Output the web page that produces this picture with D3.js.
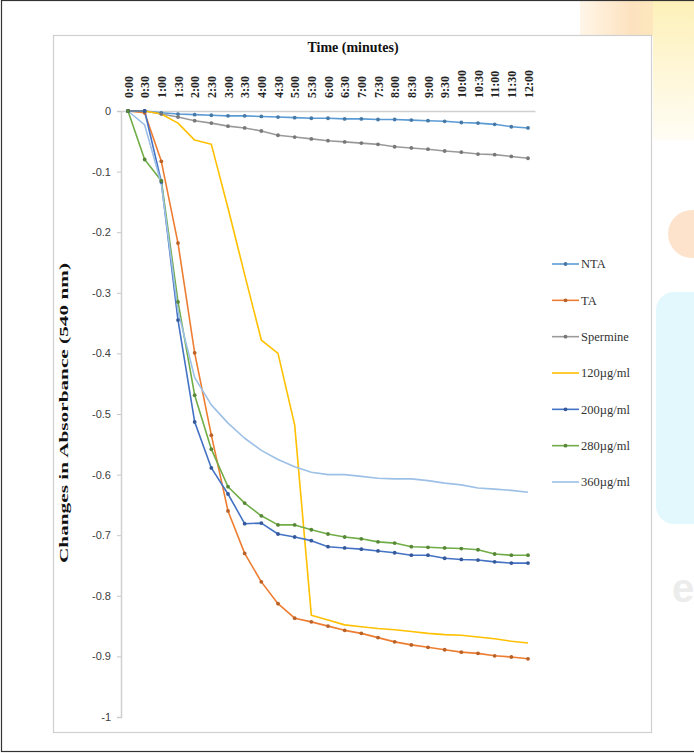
<!DOCTYPE html>
<html>
<head>
<meta charset="utf-8">
<script src="https://cdn.jsdelivr.net/npm/d3@7"></script>
<style>
  html, body { margin: 0; padding: 0; background: #fff; }
  svg { display: block; }
</style>
</head>
<body>
<svg id="chart" width="694" height="753"></svg>
<script>
// Sampling times, every 30 seconds
const times = ["0:00","0:30","1:00","1:30","2:00","2:30","3:00","3:30","4:00","4:30","5:00","5:30",
  "6:00","6:30","7:00","7:30","8:00","8:30","9:00","9:30","10:00","10:30","11:00","11:30","12:00"];

const yTicks = [0, -0.1, -0.2, -0.3, -0.4, -0.5, -0.6, -0.7, -0.8, -0.9, -1];

// Change in absorbance at 540 nm for each sample
const nta = [0, 0, -0.003, -0.005, -0.006, -0.007, -0.008, -0.008, -0.009, -0.010, -0.011, -0.012,
  -0.012, -0.013, -0.013, -0.014, -0.014, -0.015, -0.016, -0.017, -0.019, -0.020, -0.022, -0.026, -0.028];
const ta = [0, -0.003, -0.083, -0.218, -0.399, -0.535, -0.660, -0.730, -0.777, -0.813, -0.837, -0.843,
  -0.850, -0.857, -0.862, -0.869, -0.876, -0.881, -0.885, -0.889, -0.893, -0.895, -0.899, -0.901, -0.904];
const spermine = [0, 0, -0.005, -0.010, -0.016, -0.020, -0.025, -0.028, -0.033, -0.040, -0.043, -0.046,
  -0.049, -0.051, -0.053, -0.055, -0.059, -0.061, -0.063, -0.066, -0.068, -0.071, -0.072, -0.075, -0.078];
const c120 = [0, 0, -0.005, -0.020, -0.048, -0.055, -0.160, -0.270, -0.378, -0.400, -0.518, -0.832,
  -0.840, -0.848, -0.851, -0.854, -0.856, -0.859, -0.862, -0.864, -0.865, -0.868, -0.871, -0.875, -0.878];
const c200 = [0, 0, -0.117, -0.345, -0.513, -0.589, -0.632, -0.681, -0.680, -0.698, -0.703, -0.709,
  -0.719, -0.721, -0.723, -0.726, -0.729, -0.733, -0.733, -0.738, -0.740, -0.741, -0.744, -0.746, -0.746];
const c280 = [0, -0.080, -0.115, -0.315, -0.469, -0.558, -0.620, -0.647, -0.668, -0.683, -0.683, -0.691,
  -0.698, -0.703, -0.706, -0.711, -0.713, -0.719, -0.720, -0.721, -0.722, -0.724, -0.731, -0.733, -0.733];
const c360 = [0, -0.023, -0.120, -0.330, -0.440, -0.485, -0.515, -0.540, -0.560, -0.575, -0.587, -0.596,
  -0.600, -0.600, -0.603, -0.606, -0.607, -0.607, -0.610, -0.614, -0.617, -0.622, -0.624, -0.626, -0.629];

const seriesNames = ["NTA", "TA", "Spermine", "120\u00b5g/ml", "200\u00b5g/ml", "280\u00b5g/ml", "360\u00b5g/ml"];
const seriesValues = [nta, ta, spermine, c120, c200, c280, c360];
const seriesColors = ["#5B9BD5", "#ED7D31", "#9A9A9A", "#FFC000", "#4472C4", "#70AD47", "#9DC0E6"];
const seriesMarkers = [true, true, true, false, true, true, false];

const series = seriesNames.map((name, i) => ({
  name, values: seriesValues[i], color: seriesColors[i], marker: seriesMarkers[i]
}));

const svg = d3.select("#chart");
const serif = "'Liberation Serif', 'Times New Roman', serif";
const sans = "'Liberation Sans', Arial, sans-serif";

// Soft page decorations behind the chart box
const defs = svg.append("defs");
const gTop = defs.append("linearGradient").attr("id", "gTop").attr("x1", 0).attr("x2", 1).attr("y1", 0).attr("y2", 0);
gTop.append("stop").attr("offset", "0%").attr("stop-color", "#fff6e8");
gTop.append("stop").attr("offset", "45%").attr("stop-color", "#fde2bf");
gTop.append("stop").attr("offset", "100%").attr("stop-color", "#fdf0b8");
const gSide = defs.append("linearGradient").attr("id", "gSide").attr("x1", 0).attr("x2", 0).attr("y1", 0).attr("y2", 1);
gSide.append("stop").attr("offset", "0%").attr("stop-color", "#fdf0b8");
gSide.append("stop").attr("offset", "100%").attr("stop-color", "#fffdf5");
const deco = svg.append("g");
deco.append("rect").attr("x", 580).attr("y", 0).attr("width", 114).attr("height", 36).attr("fill", "url(#gTop)");
deco.append("rect").attr("x", 653).attr("y", 0).attr("width", 41).attr("height", 140).attr("fill", "url(#gSide)");
deco.append("circle").attr("cx", 692).attr("cy", 234).attr("r", 24).attr("fill", "#fde3cc");
deco.append("rect").attr("x", 656).attr("y", 292).attr("width", 60).attr("height", 232).attr("rx", 18).attr("fill", "#e3f8fc");
deco.append("text").attr("x", 672).attr("y", 602).attr("font-family", sans).attr("font-size", 40)
  .attr("font-weight", "bold").attr("fill", "#ececec").text("e");

// Outer frame and chart box
svg.append("rect").attr("x", 1.5).attr("y", 0.5).attr("width", 700).attr("height", 751)
  .attr("fill", "none").attr("stroke", "#333").attr("stroke-width", 1.2);
svg.append("rect").attr("x", 53.5).attr("y", 35.5).attr("width", 598).attr("height", 697)
  .attr("fill", "#fff").attr("stroke", "#d0d0d0").attr("stroke-width", 1.2);

// Scales
const x = d3.scalePoint().domain(times).range([121, 535]).padding(0.42);
const y = d3.scaleLinear().domain([0, -1]).range([111, 717]);

// Y axis
const yAxis = svg.append("g").attr("transform", "translate(121,0)")
  .call(d3.axisLeft(y).tickValues(yTicks).tickSize(4).tickPadding(6)
    .tickFormat(d => d === 0 ? "0" : String(+d.toFixed(1))));
yAxis.select(".domain").attr("stroke", "#d0d0d0").attr("stroke-width", 1.5);
yAxis.selectAll(".tick line").attr("stroke", "#c8c8c8");
yAxis.selectAll(".tick text").attr("font-family", sans).attr("font-size", 11).attr("fill", "#404040");

// X axis along zero, labels above, rotated
const xAxis = svg.append("g").attr("transform", `translate(0,${y(0)})`)
  .call(d3.axisTop(x).tickSize(0).tickPadding(0));
xAxis.select(".domain").attr("stroke", "#d0d0d0").attr("stroke-width", 1.5);
xAxis.selectAll(".tick text")
  .attr("transform", "rotate(-90)")
  .attr("x", 13).attr("y", 0).attr("dy", "0.35em")
  .attr("text-anchor", "start")
  .attr("font-family", serif).attr("font-size", 12).attr("font-weight", "bold").attr("fill", "#222");

// Axis titles
svg.append("text").attr("x", 353).attr("y", 52).attr("text-anchor", "middle")
  .attr("font-family", serif).attr("font-size", 14).attr("font-weight", "bold").attr("fill", "#111")
  .text("Time (minutes)");
svg.append("text").attr("transform", "translate(68,413) rotate(-90)").attr("text-anchor", "middle")
  .attr("font-family", serif).attr("font-size", 13.5).attr("font-weight", "bold").attr("fill", "#111")
  .attr("textLength", 300).attr("lengthAdjust", "spacingAndGlyphs")
  .text("Changes in Absorbance (540 nm)");

// Lines and markers
const line = d3.line().x((d, i) => x(times[i])).y(d => y(d));
const plot = svg.append("g");
series.forEach(s => {
  plot.append("path").datum(s.values).attr("d", line)
    .attr("fill", "none").attr("stroke", s.color).attr("stroke-width", 1.6)
    .attr("stroke-linejoin", "round");
});
series.filter(s => s.marker).forEach(s => {
  plot.append("g").selectAll("circle").data(s.values).join("circle")
    .attr("cx", (d, i) => x(times[i])).attr("cy", d => y(d)).attr("r", 1.9)
    .attr("fill", d3.color(s.color).darker(0.7)).attr("stroke", "none");
});

// Legend
const legend = svg.append("g");
const legY = d3.scalePoint().domain(seriesNames).range([264, 482]);
series.forEach(s => {
  const g = legend.append("g").attr("transform", `translate(0,${legY(s.name)})`);
  g.append("line").attr("x1", 552).attr("x2", 579).attr("y1", 0).attr("y2", 0)
    .attr("stroke", s.color).attr("stroke-width", 1.6);
  if (s.marker) g.append("circle").attr("cx", 565.5).attr("cy", 0).attr("r", 1.9)
    .attr("fill", d3.color(s.color).darker(0.7));
  g.append("text").attr("x", 581).attr("y", 0).attr("dy", "0.35em")
    .attr("font-family", serif).attr("font-size", 12.5).attr("fill", "#333").text(s.name);
});
</script>
</body>
</html>
